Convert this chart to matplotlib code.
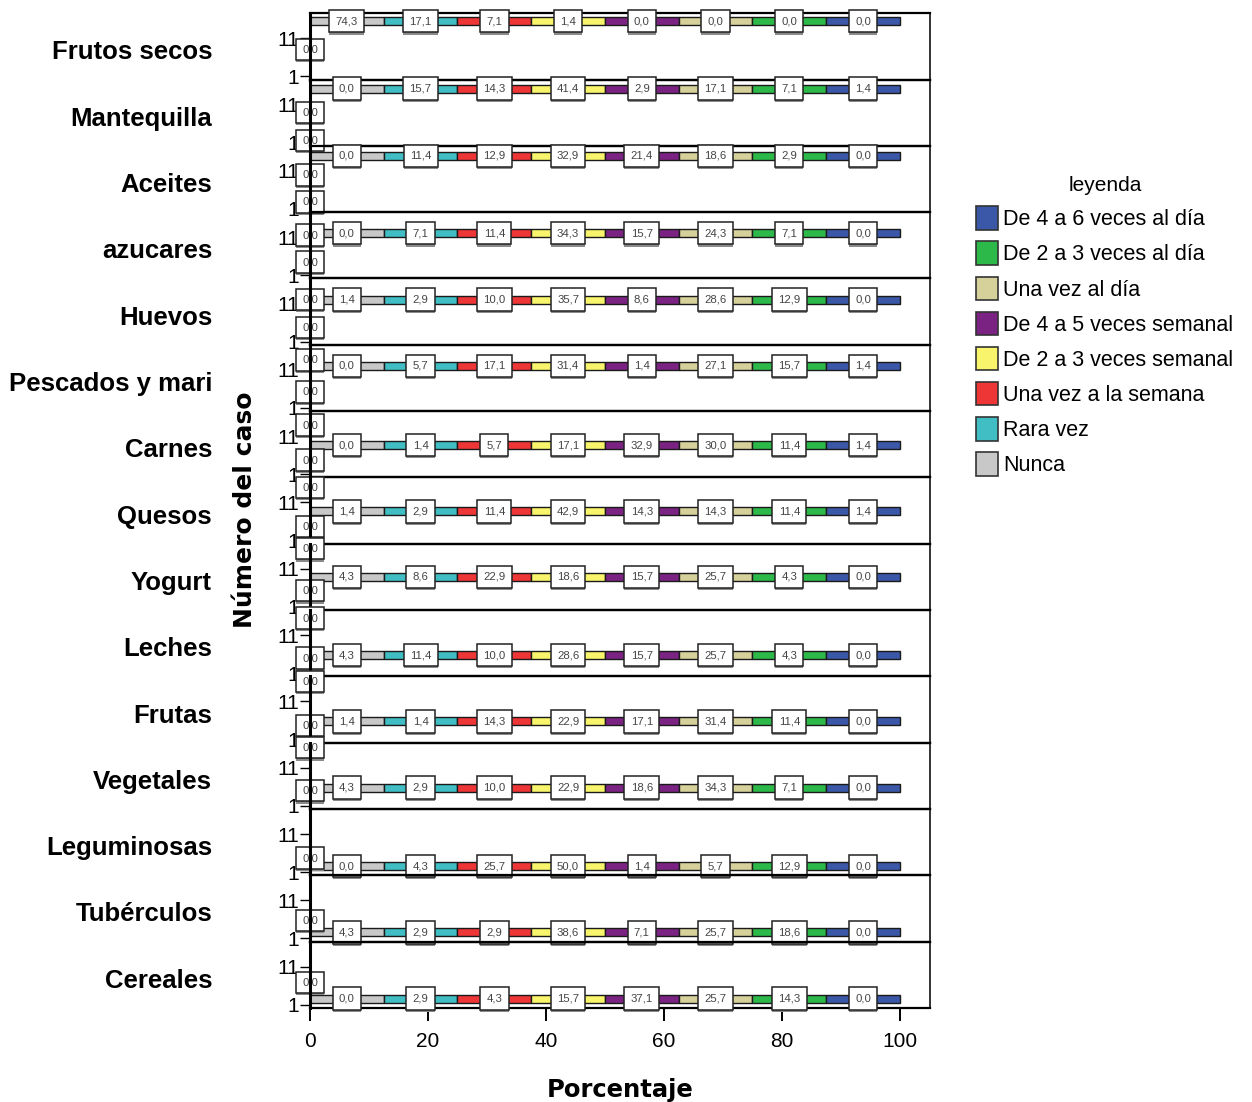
import matplotlib.pyplot as plt
from matplotlib.patches import Patch

# Alimentos (un panel por alimento, de arriba abajo)
alimentos = ['Frutos secos', 'Mantequilla', 'Aceites', 'azucares', 'Huevos',
             'Pescados y mari', 'Carnes', 'Quesos', 'Yogurt', 'Leches',
             'Frutas', 'Vegetales', 'Leguminosas', 'Tubérculos', 'Cereales']

frecuencias = ['Nunca', 'Rara vez', 'Una vez a la semana',
               'De 2 a 3 veces semanal', 'De 4 a 5 veces semanal',
               'Una vez al día', 'De 2 a 3 veces al día', 'De 4 a 6 veces al día']

colores = ['#c8c8c8', '#40bec4', '#ee3636', '#f8f56c', '#7b2382',
           '#d6d09a', '#2db84a', '#3b58a8']

# cada categoría ocupa el mismo tramo de la barra
tramo = [12.5, 12.5, 12.5, 12.5, 12.5, 12.5, 12.5, 12.5]

# porcentajes por alimento, en el orden de "frecuencias"
porcentajes = [
    [74.3, 17.1, 7.1, 1.4, 0.0, 0.0, 0.0, 0.0],
    [0.0, 15.7, 14.3, 41.4, 2.9, 17.1, 7.1, 1.4],
    [0.0, 11.4, 12.9, 32.9, 21.4, 18.6, 2.9, 0.0],
    [0.0, 7.1, 11.4, 34.3, 15.7, 24.3, 7.1, 0.0],
    [1.4, 2.9, 10.0, 35.7, 8.6, 28.6, 12.9, 0.0],
    [0.0, 5.7, 17.1, 31.4, 1.4, 27.1, 15.7, 1.4],
    [0.0, 1.4, 5.7, 17.1, 32.9, 30.0, 11.4, 1.4],
    [1.4, 2.9, 11.4, 42.9, 14.3, 14.3, 11.4, 1.4],
    [4.3, 8.6, 22.9, 18.6, 15.7, 25.7, 4.3, 0.0],
    [4.3, 11.4, 10.0, 28.6, 15.7, 25.7, 4.3, 0.0],
    [1.4, 1.4, 14.3, 22.9, 17.1, 31.4, 11.4, 0.0],
    [4.3, 2.9, 10.0, 22.9, 18.6, 34.3, 7.1, 0.0],
    [0.0, 4.3, 25.7, 50.0, 1.4, 5.7, 12.9, 0.0],
    [4.3, 2.9, 2.9, 38.6, 7.1, 25.7, 18.6, 0.0],
    [0.0, 2.9, 4.3, 15.7, 37.1, 25.7, 14.3, 0.0],
]

# posición de la barra y de los casos vacíos dentro de cada panel
fila_barra = [8, 9, 10, 21, 21, 21, 34, 34, 33, 45, 45, 45, 57, 57, 57]
filas_cero = [[36], [33, 61], [29, 56], [23, 50], [21, 49], [15, 47],
              [14, 49], [10, 49], [5, 47], [8, 48], [5, 49], [5, 48],
              [49], [45], [41]]
casos_pos = [25, 63]
casos_txt = ['11', '1']

narrow = ['Liberation Sans Narrow', 'DejaVu Sans Condensed', 'Liberation Sans', 'DejaVu Sans']


def etiqueta(ax, x, y, texto, pad=0.55):
    # sombra gris y caja blanca con el valor
    ax.annotate(texto, (x, y), xytext=(0, -1.5), textcoords='offset points',
                ha='center', va='center', fontsize=8.2, family=narrow,
                color='none', annotation_clip=False, zorder=4,
                bbox=dict(boxstyle=f'square,pad={pad}', fc='#8a8a8a', ec='none'))
    ax.annotate(texto, (x, y), ha='center', va='center', fontsize=8.2,
                family=narrow, color='#444444', annotation_clip=False, zorder=5,
                bbox=dict(boxstyle=f'square,pad={pad}', fc='white', ec='#222222', lw=1.1))


fig, axes = plt.subplots(len(alimentos), 1, figsize=(12.52, 11.02), dpi=100,
                         sharex=True, gridspec_kw=dict(hspace=0))
fig.subplots_adjust(left=0.2476, right=0.7428, top=0.988, bottom=0.0853)

for i, ax in enumerate(axes):
    ax.patch.set_visible(False)
    izq = 0
    for j in range(len(frecuencias)):
        ax.barh(fila_barra[i], tramo[j], left=izq, height=8, color=colores[j],
                edgecolor='#1a1a1a', linewidth=1.0, zorder=3)
        etiqueta(ax, izq + tramo[j] / 2, fila_barra[i],
                 f'{porcentajes[i][j]:.1f}'.replace('.', ','))
        izq += tramo[j]
    for y in filas_cero[i]:
        etiqueta(ax, 0, y, '0,0', pad=0.5)

    ax.set_xlim(0, 105.1)
    ax.set_ylim(66.3, 0)
    ax.set_yticks(casos_pos)
    ax.set_yticklabels(casos_txt, family=narrow, fontsize=15)
    ax.tick_params(axis='y', length=7, width=1.0, pad=1)
    ax.spines['left'].set_linewidth(2.2)
    ax.spines['left'].set_zorder(6)
    ax.spines['top'].set_linewidth(1.6)
    ax.spines['right'].set_linewidth(1.4)
    ax.spines['right'].set_color('#333333')
    ax.spines['bottom'].set_linewidth(1.6)
    ax.text(-0.158, 0.41, alimentos[i], transform=ax.transAxes, ha='right',
            va='center', fontsize=18.5, fontweight='bold', family=narrow)
    if i < len(alimentos) - 1:
        ax.tick_params(axis='x', bottom=False, labelbottom=False)

abajo = axes[-1]
abajo.set_xticks([0, 20, 40, 60, 80, 100])
abajo.tick_params(axis='x', length=9, width=1.4, labelsize=15, pad=8)
for t in abajo.get_xticklabels():
    t.set_family(narrow)
abajo.set_xlabel('Porcentaje', fontsize=17.5, fontweight='bold', labelpad=20)

fig.text(0.196, 0.537, 'Número del caso', rotation=90, ha='center',
         va='center', fontsize=18, fontweight='bold')

orden = [7, 6, 5, 4, 3, 2, 1, 0]
manejadores = [Patch(facecolor=colores[k], edgecolor='#333333', linewidth=1.2)
               for k in orden]
fig.legend(manejadores, [frecuencias[k] for k in orden], title='leyenda',
           loc='upper left', bbox_to_anchor=(0.773, 0.848), frameon=False,
           prop=dict(family=narrow, size=15.5), title_fontproperties=dict(family=narrow, size=15),
           handlelength=1.0, handleheight=1.3, handletextpad=0.25,
           labelspacing=0.52, borderaxespad=0)

fig.savefig('out.png')
